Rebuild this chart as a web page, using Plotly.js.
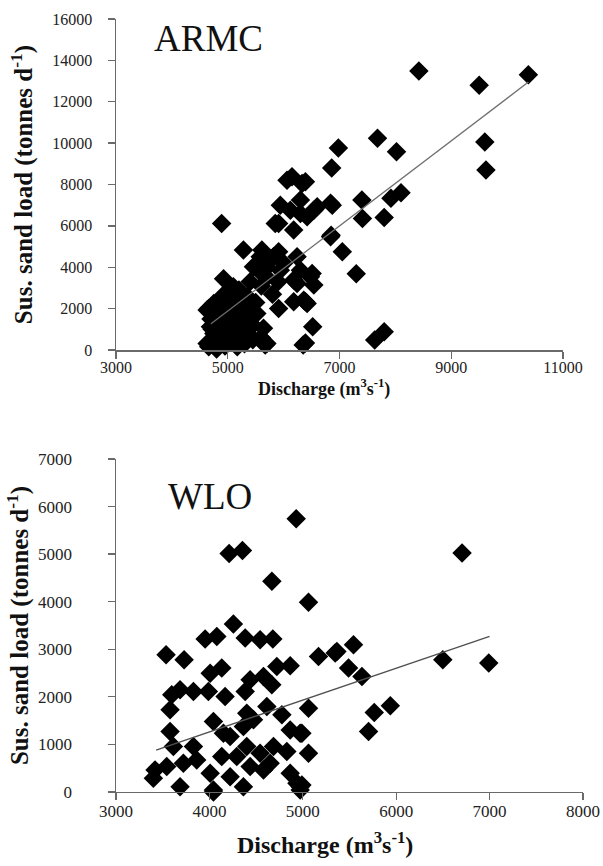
<!DOCTYPE html>
<html>
<head>
<meta charset="utf-8">
<script src="https://cdn.plot.ly/plotly-3.0.1.min.js"></script>
<style>html,body{margin:0;padding:0;background:#fff;}#chart{width:603px;height:866px;}</style>
</head>
<body>
<div id="chart"></div>
<script>
// ARMC: discharge (m3/s) vs suspended sand load (tonnes/d)
const armcDischarge = [8420,10380,9500,9600,9620,7680,8020,6980,6860,6150,6390,6060,6330,
  7400,8100,7920,7410,7800,6870,6840,6600,6300,5940,6120,6540,5850,5910,6180,6420,6300,6840,6850,7050,7300,6520,6390,7800,7630,6390,6540,6510,6180,6420,6360,6480,6240,6300,6180,6240,5910,
  4890,4925,5280,5610,5910,5760,5550,5580,5820,5460,5940,5700,6350,5670,
  5100,4750,4630,4690,4630,5220,5640,5520,5350,4660,4660,4800,5170,5050,
  4700,4750,4800,4850,4900,4950,5000,5000,5050,5100,5150,5200,5250,5300,5350,5400,5450,5500,5150,4900,5000,5200,5400,5700,5600,5800,5900,6000,5700,4850,4950,5300,5600,5450,4800,5050,5300,4720,5100,5250];
const armcLoad = [13480,13300,12800,10050,8700,10240,9580,9770,8800,8370,8130,8210,8050,
  7250,7600,7330,6360,6410,7000,7090,6920,7250,7000,6760,6760,6120,6120,5800,6440,6600,5470,5550,4750,3690,1120,340,880,480,2330,3140,3700,2330,2250,2410,3540,4510,3860,3380,3220,2010,
  6120,3450,4830,4830,4750,4350,3860,4510,4510,4020,3860,320,240,240,
  3060,2250,1930,1130,320,480,1050,1770,2580,2010,160,50,160,1290,
  1500,800,1200,1700,600,1000,1400,2000,400,800,1200,1600,1000,2000,1400,700,1200,2300,2400,2600,2800,2900,3300,3500,3100,2700,3300,4200,4000,300,200,300,600,500,2100,1700,1800,1000,2000,2200];
const armcTrendX = [4700, 10380];
const armcTrendY = [1270, 12950];

// WLO
const wloDischarge = [4929,4211,4354,4669,5061,4257,3954,4079,4383,4543,4679,3536,3729,5168,5347,
  6705,5543,5365,5490,5633,6499,6991,5061,5937,5765,5704,4990,5061,4990,
  4008,4132,4722,4865,4436,4579,4668,3686,3829,3989,4168,3597,4383,3579,4043,4615,4776,3579,4400,4364,4472,4222,4865,4972,4829,
  3418,3400,3614,3686,3721,3864,3829,4008,4043,4132,4150,4293,4222,4364,4436,4400,4543,4579,4650,4686,4865,4937,4972,3543,4043,4972];
const wloLoad = [5741,5011,5074,4428,3986,3530,3214,3270,3235,3200,3214,2884,2779,2849,2919,
  5025,3095,2954,2604,2428,2779,2709,1762,1811,1670,1270,1236,815,147,
  2498,2604,2638,2653,2358,2428,2253,2147,2112,2112,2007,2042,2112,1726,1480,1796,1621,1270,1657,1375,1516,1164,1305,1235,849,
  463,288,954,112,604,674,954,393,42,743,1236,743,322,112,533,954,815,463,604,954,393,183,42,533,0,112];
const wloTrendX = [3430, 7000];
const wloTrendY = [880, 3270];

const armcXTicks = [3000, 5000, 7000, 9000, 11000];
const armcYTicks = [0, 2000, 4000, 6000, 8000, 10000, 12000, 14000, 16000];
const wloXTicks = [3000, 4000, 5000, 6000, 7000, 8000];
const wloYTicks = [0, 1000, 2000, 3000, 4000, 5000, 6000, 7000];

const serif = 'Liberation Serif, Times New Roman, serif';
const marker = {symbol: 'diamond', size: 15, color: '#000'};

const traces = [
  {x: armcDischarge, y: armcLoad, type: 'scatter', mode: 'markers', marker: marker, cliponaxis: false, xaxis: 'x', yaxis: 'y'},
  {x: armcTrendX, y: armcTrendY, type: 'scatter', mode: 'lines', line: {color: '#707070', width: 1.3}, xaxis: 'x', yaxis: 'y'},
  {x: wloDischarge, y: wloLoad, type: 'scatter', mode: 'markers', marker: marker, cliponaxis: false, xaxis: 'x2', yaxis: 'y2'},
  {x: wloTrendX, y: wloTrendY, type: 'scatter', mode: 'lines', line: {color: '#505050', width: 1.3}, xaxis: 'x2', yaxis: 'y2'}
];

function axisBase(size) {
  return {
    showline: true, linecolor: '#6a6a6a', linewidth: 1.5,
    ticks: 'outside', ticklen: 7, tickcolor: '#6a6a6a', tickwidth: 1.3,
    showgrid: false, zeroline: false, tickmode: 'array', tickformat: 'd',
    tickfont: {family: serif, size: size, color: '#222'}
  };
}
const ytitleFont = {family: serif, size: 25, color: '#111'};

const layout = {
  width: 603, height: 866,
  margin: {l: 0, r: 0, t: 0, b: 0},
  paper_bgcolor: '#fff', plot_bgcolor: '#fff',
  showlegend: false,
  xaxis: Object.assign(axisBase(16), {domain: [0.1924, 0.9337], range: [3000, 11000], tickvals: armcXTicks, ticktext: armcXTicks.map(String), anchor: 'y', ticklabelstandoff: -5}),
  yaxis: Object.assign(axisBase(16), {domain: [0.5958, 0.9781], range: [0, 16000], tickvals: armcYTicks, ticktext: armcYTicks.map(String), anchor: 'x', ticklabelstandoff: 12,
    title: {text: '<b>Sus. sand load (tonnes d<sup>-1</sup>)</b>', font: ytitleFont, standoff: 12}}),
  xaxis2: Object.assign(axisBase(17), {domain: [0.1924, 0.9668], range: [3000, 8000], tickvals: wloXTicks, ticktext: wloXTicks.map(String), anchor: 'y2', ticklabelstandoff: -4}),
  yaxis2: Object.assign(axisBase(17), {domain: [0.0855, 0.47], range: [0, 7000], tickvals: wloYTicks, ticktext: wloYTicks.map(String), anchor: 'x2', ticklabelstandoff: 32,
    title: {text: '<b>Sus. sand load (tonnes d<sup>-1</sup>)</b>', font: ytitleFont, standoff: 2}}),
  annotations: [
    {text: 'ARMC', xref: 'paper', yref: 'paper', x: 0.345, y: 0.956, xanchor: 'center', yanchor: 'middle', showarrow: false, font: {family: serif, size: 37, color: '#111'}},
    {text: 'WLO', xref: 'paper', yref: 'paper', x: 0.348, y: 0.427, xanchor: 'center', yanchor: 'middle', showarrow: false, font: {family: serif, size: 37, color: '#111'}},
    {text: '<b>Discharge (m<sup>3</sup>s<sup>-1</sup>)</b>', xref: 'paper', yref: 'paper', x: 0.537, y: 0.552, xanchor: 'center', yanchor: 'middle', showarrow: false, font: {family: serif, size: 18, color: '#111'}},
    {text: '<b>Discharge (m<sup>3</sup>s<sup>-1</sup>)</b>', xref: 'paper', yref: 'paper', x: 0.539, y: 0.0266, xanchor: 'center', yanchor: 'middle', showarrow: false, font: {family: serif, size: 24, color: '#111'}}
  ]
};

Plotly.newPlot('chart', traces, layout, {displayModeBar: false, staticPlot: true});
</script>
</body>
</html>
